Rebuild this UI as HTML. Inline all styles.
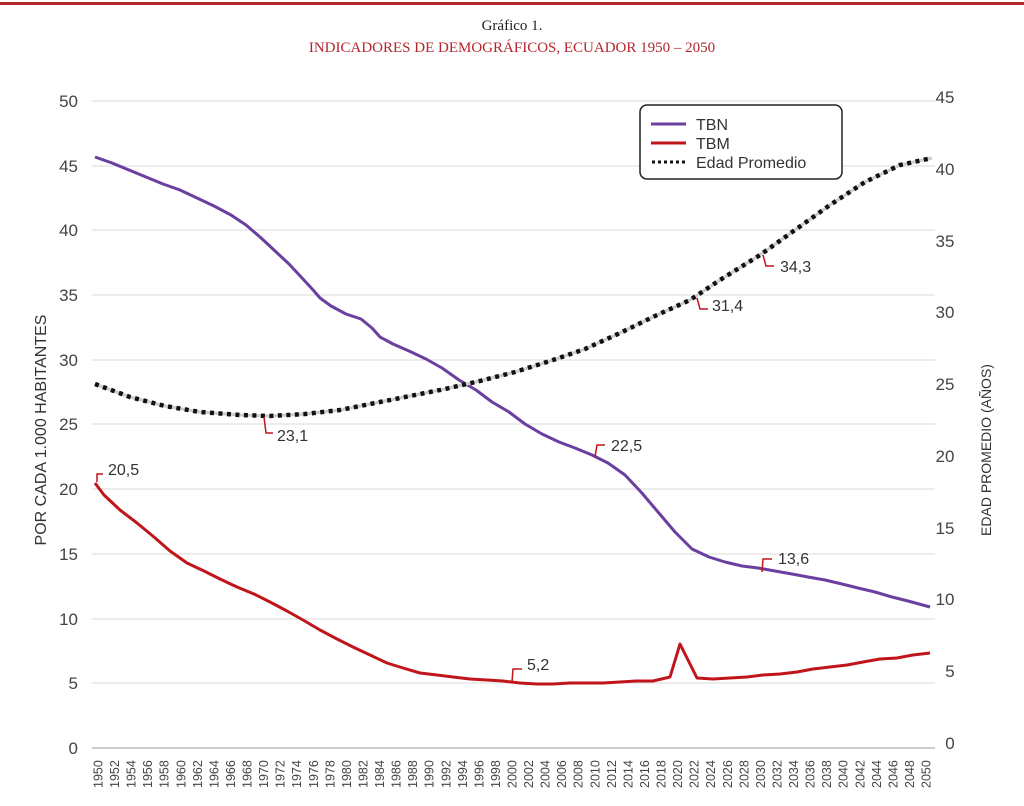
<!DOCTYPE html>
<html><head><meta charset="utf-8"><style>
body{margin:0;background:#fff;}
svg{display:block;font-family:"Liberation Sans",sans-serif;}
</style></head><body>
<svg width="1024" height="806" viewBox="0 0 1024 806">
<rect x="0" y="2" width="1024" height="3" fill="#b3262c"/>
<text x="512" y="30" text-anchor="middle" font-family="Liberation Serif" font-size="15" fill="#222">Gráfico 1.</text>
<text x="512" y="52" text-anchor="middle" font-family="Liberation Serif" font-size="15" fill="#b3262c">INDICADORES DE DEMOGRÁFICOS, ECUADOR 1950 – 2050</text>
<g stroke="#d9d9d9" stroke-width="1">
<line x1="92" x2="935" y1="101" y2="101"/><line x1="92" x2="935" y1="166" y2="166"/>
<line x1="92" x2="935" y1="230" y2="230"/><line x1="92" x2="935" y1="295" y2="295"/>
<line x1="92" x2="935" y1="360" y2="360"/><line x1="92" x2="935" y1="424" y2="424"/>
<line x1="92" x2="935" y1="489" y2="489"/><line x1="92" x2="935" y1="554" y2="554"/>
<line x1="92" x2="935" y1="619" y2="619"/><line x1="92" x2="935" y1="683" y2="683"/>
</g>
<line x1="92" x2="935" y1="748" y2="748" stroke="#bbb" stroke-width="1.5"/>
<g font-size="17" fill="#444" text-anchor="end">
<text x="78" y="107">50</text><text x="78" y="172">45</text><text x="78" y="236">40</text>
<text x="78" y="301">35</text><text x="78" y="366">30</text><text x="78" y="430">25</text>
<text x="78" y="495">20</text><text x="78" y="560">15</text><text x="78" y="625">10</text>
<text x="78" y="689">5</text><text x="78" y="754">0</text>
</g>
<g font-size="17" fill="#444" text-anchor="middle">
<text x="945" y="103">45</text><text x="945" y="175">40</text><text x="945" y="247">35</text>
<text x="945" y="318">30</text><text x="945" y="390">25</text><text x="945" y="462">20</text>
<text x="945" y="534">15</text><text x="945" y="605">10</text><text x="950" y="677">5</text>
<text x="950" y="749">0</text>
</g>
<text transform="translate(46,430) rotate(-90)" text-anchor="middle" font-size="16" fill="#333">POR CADA 1.000 HABITANTES</text>
<text transform="translate(991,450) rotate(-90)" text-anchor="middle" font-size="14" fill="#333">EDAD PROMEDIO (AÑOS)</text>
<g id="xl" font-size="12.5" fill="#444"></g>
<polyline fill="none" stroke="#6a3fa0" stroke-width="3" stroke-linejoin="round" points="95,157 112,163 129,170 146,177 163,184 180,190 197,198 214,206 231,215 246,225 260,237 274,250 289,264 303,279 314,291 320,298 331,306 346,314 361,319 372,328 380,337 393,344 409,351 426,359 442,368 459,380 476,390 492,402 509,412 525,424 542,434 559,442 575,448 592,455 608,463 625,475 641,492 658,512 675,532 692,549 709,557 725,562 742,566 758,568 775,571 792,574 808,577 825,580 842,584 858,588 875,592 892,597 908,601 930,607"/>
<polyline fill="none" stroke="#c0151b" stroke-width="3" stroke-linejoin="round" points="95,483 104,495 120,510 137,523 154,537 170,551 187,563 204,571 220,579 237,587 254,594 270,602 287,611 303,620 320,630 337,639 353,647 370,655 387,663 403,668 420,673 437,675 453,677 470,679 487,680 503,681 520,683 537,684 553,684 570,683 587,683 603,683 620,682 637,681 653,681 670,677 680,644 697,678 713,679 730,678 747,677 763,675 780,674 797,672 813,669 830,667 847,665 863,662 880,659 897,658 913,655 930,653"/>
<polyline fill="none" stroke="#ccc" stroke-width="3" points="95,384 130,397 165,406 200,412 240,415 270,416 305,414 340,410 375,403 410,396 445,389 480,381 515,372 550,361 585,349 620,333 655,316 690,300 720,280 760,255 795,230 830,205 865,182 900,165 932,158"/>
<polyline fill="none" stroke="#111" stroke-width="4.5" stroke-dasharray="4,4.5" points="95,384 130,397 165,406 200,412 240,415 270,416 305,414 340,410 375,403 410,396 445,389 480,381 515,372 550,361 585,349 620,333 655,316 690,300 720,280 760,255 795,230 830,205 865,182 900,165 932,158"/>
<g fill="none" stroke="#c0151b" stroke-width="1.5">
<polyline points="97,482 97,474 103,474"/>
<polyline points="264,417 266,433 273,433"/>
<polyline points="512,682 513,669 522,669"/>
<polyline points="595,457 597,445 605,445"/>
<polyline points="762,572 763,559 772,559"/>
<polyline points="697,298 700,309 708,309"/>
<polyline points="763,255 766,266 774,266"/>
</g>
<g font-size="16" fill="#333">
<text x="108" y="475">20,5</text><text x="277" y="441">23,1</text><text x="527" y="670">5,2</text>
<text x="611" y="451">22,5</text><text x="778" y="564">13,6</text><text x="712" y="311">31,4</text>
<text x="780" y="272">34,3</text>
</g>
<rect x="640" y="105" width="202" height="74" rx="7" fill="#fff" stroke="#222" stroke-width="1.5"/>
<line x1="651" x2="686" y1="124" y2="124" stroke="#6a3fa0" stroke-width="3"/>
<line x1="651" x2="686" y1="143" y2="143" stroke="#c0151b" stroke-width="3"/>
<line x1="652" x2="686" y1="162" y2="162" stroke="#111" stroke-width="3" stroke-dasharray="3,3"/>
<g font-size="16" fill="#333"><text x="696" y="130">TBN</text><text x="696" y="149">TBM</text><text x="696" y="168">Edad Promedio</text></g>
</svg>
<script>
var g=document.getElementById('xl'),s='';
for(var y=1950;y<=2050;y+=2){var x=98+(y-1950)*8.28+4.5;s+='<text transform="translate('+x+',788) rotate(-90)">'+y+'</text>';}
g.innerHTML=s;
</script>
</body></html>
